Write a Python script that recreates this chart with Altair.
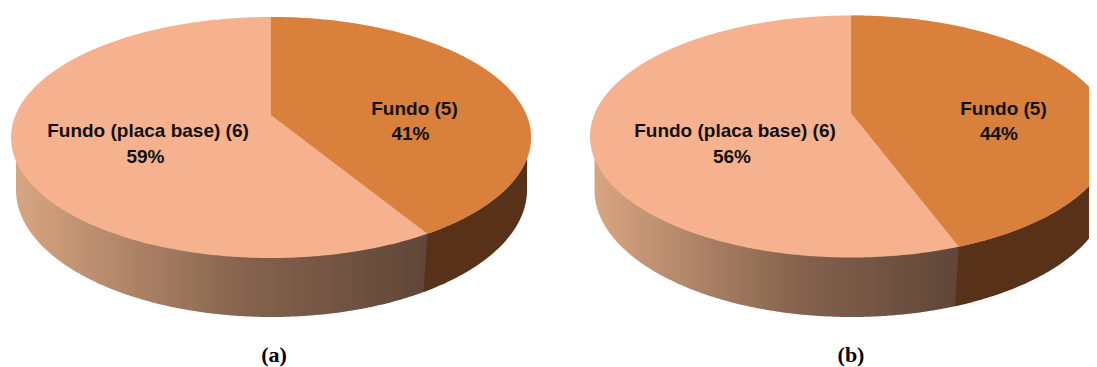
import altair as alt
import numpy as np
import pandas as pd

# --- values
panels = ["(a)", "(b)"]
share_fundo_5 = [41.4, 44.4]
share_placa = [58.6, 55.6]
shown_5 = ["41%", "44%"]
shown_6 = ["59%", "56%"]
name_5 = "Fundo (5)"
name_6 = "Fundo (placa base) (6)"

# --- layout (picture pixels)
PEACH = "#F6B28E"
ORANGE = "#D8803C"
DARK = "#573218"
WALL_STOPS = [(0, "#D8A582"), (0.55, "#85634D"), (1, "#5F4638")]
geom = [
    dict(cx=271, top=17, pivot=115, bottom=258, a=260, lcx=271.5, lcy=190, la=255.5, lb=127, lean=4),
    dict(cx=851, top=15.5, pivot=113, bottom=257.5, a=261, lcx=851.5, lcy=190, la=257, lb=127, lean=4),
]
label_pos = [
    dict(x6=148, x6p=145.5, x5=414.5, x5p=410.5, xt=274),
    dict(x6=735, x6p=732, x5=1003.5, x5p=999, xt=851),
]
Y_L1, Y_L2, Y_R1, Y_R2, Y_T = 131, 157, 109, 134, 355

T = np.linspace(0, np.pi, 361)
X_SCALE = alt.Scale(domain=[8, 1089])
Y_SCALE = alt.Scale(domain=[367, 8])


def base(df, mark):
    return alt.Chart(df).mark_area(**mark).encode(
        x=alt.X("x:Q", scale=X_SCALE, axis=None),
        y=alt.Y("y:Q", scale=Y_SCALE, axis=None),
        y2=alt.Y2("yb:Q"),
    )


def pie(g, share):
    cy = (g["top"] + g["bottom"]) / 2
    b = (g["bottom"] - g["top"]) / 2
    up = g["pivot"] - g["top"]
    dn = g["bottom"] - g["pivot"]
    c = (dn - up) / (dn + up)
    A = -up * (1 + c)
    D = g["a"] * np.sqrt(1 - c * c)
    th = 2 * np.pi * share / 100
    u, v = np.sin(th), np.cos(th)
    sx = g["cx"] + D * u / (c * v + 1)
    sy = g["pivot"] + A * v / (c * v + 1)

    # upper-face arcs
    xs = g["cx"] - g["a"] * np.cos(T)
    s = np.sqrt(np.clip(1 - ((xs - g["cx"]) / g["a"]) ** 2, 0, 1))
    upper = cy - b * s
    lower = cy + b * s

    # wall
    lx = g["lcx"] - g["la"] * np.cos(T)
    ls = np.sqrt(np.clip(1 - ((lx - g["lcx"]) / g["la"]) ** 2, 0, 1))
    ly = g["lcy"] + g["lb"] * ls
    bx = sx - g["lean"]
    by = g["lcy"] + g["lb"] * np.sqrt(1 - ((bx - g["lcx"]) / g["la"]) ** 2)

    lm = lx <= sx
    wx = np.concatenate([lx[lm], [sx + 1]])
    left = pd.DataFrame({"x": wx, "y": np.interp(wx, lx, ly), "yb": np.full(len(wx), cy)})
    grad = alt.Gradient(
        gradient="linear", x1=0, x2=1, y1=0, y2=0,
        stops=[alt.GradientStop(offset=o, color=k) for o, k in WALL_STOPS],
    )
    rm = lx > sx
    rx = np.concatenate([[bx, sx], lx[rm]])
    rfloor = np.interp(rx, lx, ly)
    rfloor[0] = by
    rtop = np.concatenate([[by, sy], np.full(rm.sum(), cy)])
    right = pd.DataFrame({"x": rx, "y": rfloor, "yb": rtop})

    face = pd.DataFrame({"x": xs, "y": upper, "yb": lower})
    om = xs >= g["cx"]
    ox = np.unique(np.concatenate([xs[om], [sx]]))
    ou = cy - b * np.sqrt(np.clip(1 - ((ox - g["cx"]) / g["a"]) ** 2, 0, 1))
    ol = cy + b * np.sqrt(np.clip(1 - ((ox - g["cx"]) / g["a"]) ** 2, 0, 1))
    ray = g["pivot"] + (ox - g["cx"]) / (sx - g["cx"]) * (sy - g["pivot"])
    slice_df = pd.DataFrame({"x": ox, "y": ou, "yb": np.minimum(ol, ray)})

    return [
        base(left, dict(color=grad, clip=True)),
        base(right, dict(color=DARK, clip=True)),
        base(face, dict(color=PEACH, clip=True)),
        base(slice_df, dict(color=ORANGE, clip=True)),
    ]


layers = []
for g, s in zip(geom, share_fundo_5):
    layers += pie(g, s)

rows = []
for i, p in enumerate(label_pos):
    rows += [
        dict(x=p["x6"], y=Y_L1, t=name_6),
        dict(x=p["x6p"], y=Y_L2, t=shown_6[i]),
        dict(x=p["x5"], y=Y_R1, t=name_5),
        dict(x=p["x5p"], y=Y_R2, t=shown_5[i]),
    ]
labels = alt.Chart(pd.DataFrame(rows)).mark_text(
    font="Liberation Sans", fontWeight="bold", fontSize=19, color="#111111", baseline="middle", align="center"
).encode(
    x=alt.X("x:Q", scale=X_SCALE, axis=None),
    y=alt.Y("y:Q", scale=Y_SCALE, axis=None),
    text="t:N",
)
caps = alt.Chart(pd.DataFrame({
    "x": [p["xt"] for p in label_pos], "y": [Y_T, Y_T], "t": panels,
})).mark_text(
    font="Liberation Serif", fontWeight="bold", fontSize=22, color="black", baseline="middle", align="center"
).encode(
    x=alt.X("x:Q", scale=X_SCALE, axis=None),
    y=alt.Y("y:Q", scale=Y_SCALE, axis=None),
    text="t:N",
)

chart = alt.layer(*layers, labels, caps).properties(
    width=1081, height=359, padding=0
).configure_view(strokeWidth=0)

chart.save("out.html", embed_options={"renderer": "svg", "actions": False})
